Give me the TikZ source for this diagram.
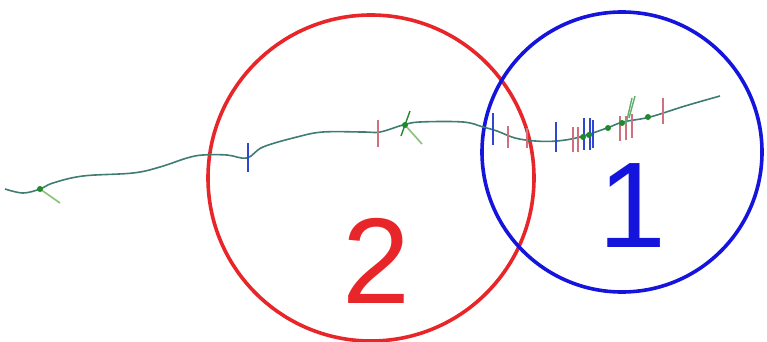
\documentclass[tikz,border=0pt]{standalone}
\usepackage{fontspec}
\setmainfont{Liberation Sans}
\usepackage{xcolor}
\usetikzlibrary{positioning,calc}

\definecolor{zonered}{HTML}{E8262A}
\definecolor{zoneblue}{HTML}{1414DC}
\definecolor{trailcol}{HTML}{3E7C74}
\definecolor{tickpink}{HTML}{D0707E}
\definecolor{tickblue}{HTML}{2E46D0}
\definecolor{dotgreen}{HTML}{1E8A2C}
\definecolor{tailgreen}{HTML}{8CC07A}

\begin{document}
\begin{tikzpicture}[
  x=1pt, y=-1pt,
  ring/.style={circle, draw=#1, line width=3.6pt, inner sep=0pt},
  zonenum/.style={text=#1, font=\fontsize{122}{122}\selectfont, anchor=base, inner sep=0pt},
  trail/.style={draw=trailcol, line width=1.6pt},
  tick/.style={draw=#1, line width=2pt},
  tail/.style={draw=tailgreen, line width=1.6pt},
  fix/.style={circle, fill=dotgreen, inner sep=0pt, minimum size=6pt}
]
  \useasboundingbox (0,0) rectangle (767,342);

  % zones
  \node[ring=zonered, minimum size=326pt] (zone2) at (371,178) {};
  \node[ring=zoneblue, minimum size=280pt] (zone1) at (622,152) {};

  % track
  \draw[trail] plot[smooth, tension=0.6] coordinates {
    (5,189) (23,193) (40,189) (53,183) (83,176) (133,173) (160,167)
    (187,158) (203,155) (227,155) (247,158) (263,147) (297,137)
    (323,132) (363,132) (380,132) (403,125) (420,122) (463,122)
    (483,127) (497,131) (515,138) (535,141) (557,141) (580,137)
    (607,128) (623,122) (650,117) (685,106) (720,96)};

  % markers along the track
  \foreach \x/\ya/\yb in {248/143/172, 493/113/145, 556/122/152, 584/118/150, 590/118/150, 593/120/148}
    \draw[tick=tickblue] (\x,\ya) -- (\x,\yb);
  \foreach \x/\ya/\yb in {378/120/147, 508/126/148, 527/128/148, 573/127/152, 578/127/152, 620/116/141, 626/116/140, 632/114/138, 663/98/124}
    \draw[tick=tickpink] (\x,\ya) -- (\x,\yb);

  \draw[tail] (40,189) -- (60,203);
  \draw[tail] (405,125) -- (422,144);
  \draw[tick=dotgreen, line width=1.4pt] (410,111) -- (401,136);
  \draw[tick=dotgreen!70, line width=1.4pt] (632,98) -- (626,124);
  \draw[tick=dotgreen!70, line width=1.4pt] (635,96) -- (629,118);

  \foreach \x/\y [count=\i] in {40/189, 405/125, 583/137, 589/135, 608/128, 622/123, 648/117}
    \node[fix] (fix\i) at (\x,\y) {};

  % zone labels
  \node[zonenum=zonered] (label2) at (376,303) {2};
  \node[zonenum=zoneblue] (label1) at (632,247) {1};
\end{tikzpicture}
\end{document}
